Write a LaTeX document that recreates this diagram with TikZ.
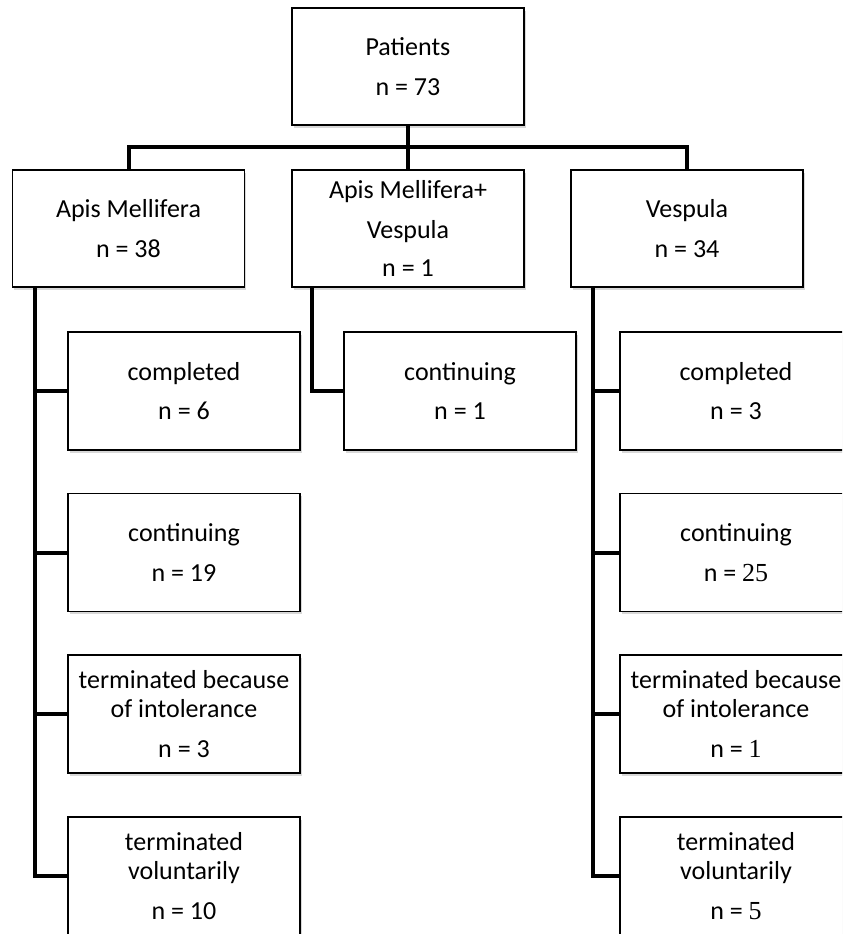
\documentclass[tikz,border=0pt]{standalone}
\usepackage{fontspec}
\setmainfont{Carlito}
\newfontfamily\numfont{Liberation Serif}
\usepackage{tikz}
\usetikzlibrary{positioning,shadows}

\begin{document}
\begin{tikzpicture}[
  x=0.75pt, y=-0.75pt,
  box/.style={rectangle, draw, line width=1.4pt, fill=white,
    minimum width=174pt, minimum height=88.5pt, inner sep=0pt,
    align=center, font=\fontsize{19.5pt}{21.75pt}\selectfont,
    drop shadow={shadow xshift=1.2pt, shadow yshift=-2.2pt, fill=black!30}},
  topbox/.style={box, minimum height=88pt},
  tree/.style={line width=3pt, line cap=rect, line join=miter},
]
  \clip (0,0) rectangle (842,934);
  \fill[white] (0,0) rectangle (842,934);

  \node[topbox] (pat) at (408, 66.5) {Patients\\[8pt]n = 73};
  \node[topbox] (am)  at (128.5, 228.5) {Apis Mellifera\\[8pt]n = 38};
  \node[topbox] (amv) at (408, 228.5) {Apis Mellifera+\\[8pt]Vespula\\[7pt]n = 1};
  \node[topbox] (ves) at (687, 228.5) {Vespula\\[8pt]n = 34};

  \node[box] (amc) at (184, 391)   {completed\\[8pt]n = 6};
  \node[box] (amo) at (184, 552.5) {continuing\\[8pt]n = 19};
  \node[box] (amt) at (184, 714)   {terminated because\\of intolerance\\[8pt]n = 3};
  \node[box] (amw) at (184, 876)   {terminated\\voluntarily\\[8pt]n = 10};

  \node[box] (mvo) at (460, 391)   {continuing\\[8pt]n = 1};

  \node[box] (vec) at (736, 391)   {completed\\[8pt]n = 3};
  \node[box] (veo) at (736, 552.5) {continuing\\[8pt]n = {\numfont 25}};
  \node[box] (vet) at (736, 714)   {terminated because\\of intolerance\\[8pt]n = {\numfont 1}};
  \node[box] (vew) at (736, 876)   {terminated\\voluntarily\\[8pt]n = {\numfont 5}};

  \coordinate (bar) at (408, 147);
  \draw[tree] (pat.south) -- (amv.north);
  \draw[tree] (am.north) |- (bar) -| (ves.north);

  \foreach \b in {amc,amo,amt,amw}
    \draw[tree] ([xshift=17.25pt]am.south west) |- (\b.west);
  \draw[tree] ([xshift=15.75pt]amv.south west) |- (mvo.west);
  \foreach \b in {vec,veo,vet,vew}
    \draw[tree] ([xshift=17.25pt]ves.south west) |- (\b.west);
\end{tikzpicture}
\end{document}
